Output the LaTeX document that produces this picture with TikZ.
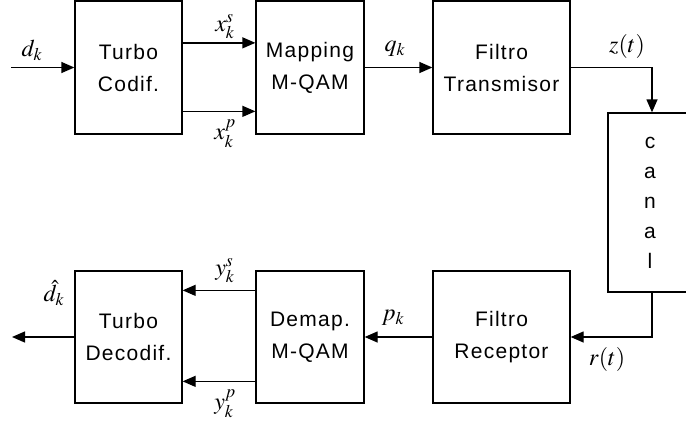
\documentclass[tikz,border=0pt]{standalone}
\usepackage{mathptmx}
\usepackage{fontspec}
\setmainfont{Liberation Sans}[LetterSpace=6]
\usetikzlibrary{arrows.meta}
\begin{document}
\begin{tikzpicture}[x=1pt,y=-1pt,
  blk/.style={draw,line width=1.3pt,minimum width=107pt,minimum height=133pt,inner sep=0pt,
    align=center,font=\fontsize{21}{32}\selectfont},
  arr/.style={line width=1.3pt,-{Triangle[length=13pt,width=11pt]}},
  lbl/.style={inner sep=0pt,font=\fontsize{24}{26}\selectfont}]
\useasboundingbox (0,0) rectangle (686,423);
\begin{scope}
\clip (0,0) rectangle (686,423);
\node[blk] (tc) at (128.5,67.5) {Turbo\\Codif.};
\node[blk,minimum width=108pt] (map) at (310,67.5) {Mapping\\M-QAM};
\node[blk,minimum width=137pt] (ftx) at (501.5,67.5) {Filtro\\Transmisor};
\node[blk,minimum width=88pt,minimum height=179pt] (can) at (652,202.5) {};
\node[font=\fontsize{21}{30}\selectfont,align=center,inner sep=0pt] (cantxt) at (650,202.5) {c\\a\\n\\a\\l};
\node[blk,minimum height=132pt] (tdc) at (128.5,337) {Turbo\\Decodif.};
\node[blk,minimum width=108pt,minimum height=132pt] (dem) at (310,337) {Demap.\\M-QAM};
\node[blk,minimum width=137pt,minimum height=132pt] (frx) at (501.5,337) {Filtro\\Receptor};
\end{scope}
\coordinate (in) at (11,67.5);
\coordinate (out) at (12,337);
\draw[arr] (in) -- (tc.west);
\draw[arr] ([yshift=-42.5pt]tc.north east) -- ([yshift=-42.5pt]map.north west);
\draw[arr] ([yshift=-111pt]tc.north east) -- ([yshift=-111pt]map.north west);
\draw[arr] (map.east) -- (ftx.west);
\draw[arr] (ftx.east) -| (can.north);
\draw[arr] (can.south) |- (frx.east);
\draw[arr] (frx.west) -- (dem.east);
\draw[arr] ([yshift=-20pt]dem.north west) -- ([yshift=-20pt]tdc.north east);
\draw[arr] ([yshift=-111pt]dem.north west) -- ([yshift=-111pt]tdc.north east);
\draw[arr] (tdc.west) -- (out);
\node[lbl] (ldk) at (32,50) {$d_k$};
\node[lbl] (lxs) at (225,27) {$x_k^s$};
\node[lbl] (lxp) at (225,134) {$x_k^p$};
\node[lbl] (lqk) at (395,49) {$q_k$};
\node[lbl] (lzt) at (627,46) {$z(t)$};
\node[lbl] (ldh) at (54,293) {$\hat{d}_k$};
\node[lbl] (lys) at (225,271) {$y_k^s$};
\node[lbl] (lyp) at (225,404) {$y_k^p$};
\node[lbl] (lpk) at (393,318) {$p_k$};
\node[lbl] (lrt) at (607,359) {$r(t)$};
\end{tikzpicture}
\end{document}
